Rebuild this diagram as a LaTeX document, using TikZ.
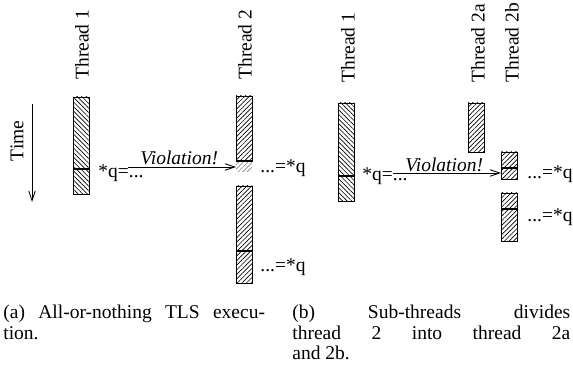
\documentclass[tikz,border=0pt]{standalone}
\usepackage{fontspec}
\setmainfont{Liberation Serif}
\usetikzlibrary{arrows.meta, patterns.meta}

\begin{document}
\begin{tikzpicture}[
            x = 0.6154pt, y = -0.6154pt, % one unit is one pixel
            > = {Straight Barb[length=6pt, width=4pt]}, % arrow head style
            line width = 0.5pt, % line style
            font = \fontsize{12}{14}\selectfont
        ]

        \tikzstyle{oldbar}=[
        draw = black,
        pattern = {Lines[angle=-45, distance=2pt, line width=0.4pt]}
        ]
        \tikzstyle{newbar}=[
        draw = black,
        pattern = {Lines[angle=45, distance=2pt, line width=0.4pt]}
        ]
        \tikzstyle{cut}=[line width = 1.8pt]
        \tikzstyle{thread}=[rotate = 90, anchor = west, inner sep = 0pt]
        \tikzstyle{access}=[anchor = base west, inner sep = 0pt]
        \tikzstyle{caption}=[
        anchor = north west,
        inner sep = 0pt,
        align = justify,
        font = \fontsize{12}{12.6}\selectfont
        ]

        \useasboundingbox (0,0) rectangle (573,387);

        % (a) all-or-nothing
        \node[thread] (t1a) at (82,80) {Thread 1};
        \node[thread] (t2a) at (245,80) {Thread 2};
        \node[rotate = 90] (time) at (17,141) {Time};
        \coordinate (time0) at (32,104);
        \coordinate (time1) at (32,202);
        \draw[->] (time0) -- (time1);

        \draw[oldbar] (73,97) rectangle (89,194);
        \draw[cut] (73,169) -- (89,169);
        \draw[newbar] (236,96) rectangle (252,161);
        \fill[pattern = {Lines[angle=45, distance=2pt, line width=0.4pt]},
              pattern color = gray] (236,161) rectangle (252,172);
        \draw[cut] (236,161) -- (252,161);
        \draw[newbar] (236,186) rectangle (252,283);
        \draw[cut] (236,251) -- (252,251);

        \node[access] (sa) at (98,177) {*q=...};
        \node[access] (va) at (140,165) {\itshape Violation!};
        \coordinate (va0) at (128,167);
        \coordinate (va1) at (236,167);
        \draw[->] (va0) -- (va1);
        \node[access] (la1) at (260,173) {...=*q};
        \node[access] (la2) at (260,271) {...=*q};

        % (b) sub-threads
        \node[thread] (t1b) at (348,83) {Thread 1};
        \node[thread] (t2ab) at (478,83) {Thread 2a};
        \node[thread] (t2bb) at (512,83) {Thread 2b};

        \draw[oldbar] (338,103) rectangle (354,201);
        \draw[cut] (338,176) -- (354,176);
        \draw[newbar] (468,103) rectangle (484,152);
        \draw[newbar] (501,152) rectangle (517,179);
        \draw[cut] (501,168) -- (517,168);
        \draw[newbar] (501,193) rectangle (517,241);
        \draw[cut] (501,209) -- (517,209);

        \node[access] (sb) at (362,181) {*q=...};
        \node[access] (vb) at (405,172) {\itshape Violation!};
        \coordinate (vb0) at (393,173);
        \coordinate (vb1) at (501,173);
        \draw[->] (vb0) -- (vb1);
        \node[access] (lb1) at (527,179) {...=*q};
        \node[access] (lb2) at (527,221) {...=*q};

        % captions
        \node[caption, text width = 161pt] (capa) at (3,305)
            {(a)~All-or-nothing TLS execu-\linebreak tion.};
        \node[caption, text width = 171pt] (capb) at (292,305)
            {(b)~Sub-threads divides\linebreak thread 2 into thread 2a\linebreak and 2b.};
    \end{tikzpicture}
\end{document}
